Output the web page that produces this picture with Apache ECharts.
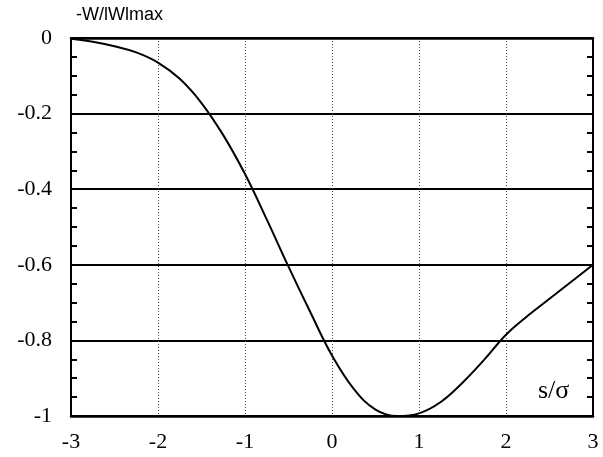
<!DOCTYPE html>
<html>
<head>
<meta charset="utf-8">
<script src="https://cdn.jsdelivr.net/npm/echarts@6/dist/echarts.min.js"></script>
<style>
  html, body { margin: 0; padding: 0; background: #fff; }
  #chart { width: 603px; height: 457px; }
</style>
</head>
<body>
<div id="chart"></div>
<script>
// Normalised wake potential -W/|W|max versus s/sigma
const sValues = [-3, -2.75, -2.5, -2.25, -2, -1.75, -1.5, -1.25, -1, -0.75, -0.5, -0.25, 0, 0.25, 0.5, 0.75, 1, 1.25, 1.5, 1.75, 2, 2.25, 2.5, 2.75, 3];
const wakeValues = [-0.002, -0.01, -0.022, -0.038, -0.065, -0.108, -0.172, -0.257, -0.36, -0.48, -0.605, -0.725, -0.84, -0.928, -0.983, -1.0, -0.993, -0.963, -0.912, -0.851, -0.785, -0.735, -0.69, -0.645, -0.6];
const xTicks = [-3, -2, -1, 0, 1, 2, 3];
const yTicks = [0, -0.2, -0.4, -0.6, -0.8, -1];

const points = sValues.map((s, i) => [s, wakeValues[i]]);
const serif = '"Liberation Serif", "DejaVu Serif", serif';
const yMin = yTicks[yTicks.length - 1];
const yMax = yTicks[0];

// Frame axis carrying the labels and the solid grid lines
const frameLeft = {
  type: 'value', position: 'left',
  min: yMin, max: yMax, interval: 0.2,
  axisLine: { show: true, onZero: false, lineStyle: { color: '#000', width: 2 } },
  axisTick: { show: false },
  axisLabel: {
    color: '#000', fontFamily: serif, fontSize: 22, margin: 19,
    formatter: v => String(Math.round(v * 10) / 10)
  },
  splitLine: { show: true, lineStyle: { color: '#000', width: 2 } }
};

const frameRight = {
  type: 'value', position: 'right',
  min: yMin, max: yMax, interval: 0.2,
  axisLine: { show: true, onZero: false, lineStyle: { color: '#000', width: 2 } },
  axisTick: { show: false }, axisLabel: { show: false }, splitLine: { show: false }
};

// Tick-only axes pulled into the plot so the minor ticks point inward
function tickAxis(position) {
  return {
    type: 'value', position: position, offset: -6,
    min: yMin, max: yMax, interval: 0.2,
    axisLine: { show: false, onZero: false },
    axisTick: { show: true, length: 6, lineStyle: { color: '#000', width: 2 } },
    minorTick: { show: true, splitNumber: 4, length: 6, lineStyle: { color: '#000', width: 2 } },
    axisLabel: { show: false }, splitLine: { show: false }
  };
}

const chart = echarts.init(document.getElementById('chart'), null, { renderer: 'canvas' });
chart.setOption({
  animation: false,
  backgroundColor: '#fff',
  grid: { left: 71, right: 10, top: 38, bottom: 41 },
  xAxis: [{
    type: 'value', position: 'bottom',
    min: xTicks[0], max: xTicks[xTicks.length - 1], interval: 1,
    axisLine: { onZero: false, lineStyle: { color: '#000', width: 2.5 } },
    axisTick: { show: false },
    axisLabel: {
      color: '#000', fontFamily: serif, fontSize: 22, margin: 15,
      formatter: v => String(v)
    },
    splitLine: { show: true, lineStyle: { color: '#444', width: 1, type: [1, 2] } }
  }, {
    type: 'value', position: 'top',
    min: xTicks[0], max: xTicks[xTicks.length - 1], interval: 1,
    axisLine: { show: true, onZero: false, lineStyle: { color: '#000', width: 2.5 } },
    axisTick: { show: false }, axisLabel: { show: false }, splitLine: { show: false }
  }],
  yAxis: [frameLeft, frameRight, tickAxis('left'), tickAxis('right')],
  series: [{
    type: 'line',
    data: points,
    smooth: 0.4,
    showSymbol: false,
    lineStyle: { color: '#000', width: 2 },
    z: 5
  }],
  graphic: [{
    type: 'text', left: 76, top: 6,
    style: { text: '-W/lWlmax', fill: '#000', font: '18px "Liberation Sans", Arial, sans-serif' }
  }, {
    type: 'text', left: 538, top: 378,
    style: { text: 's/σ', fill: '#000', font: '26px ' + serif }
  }]
});
</script>
</body>
</html>
